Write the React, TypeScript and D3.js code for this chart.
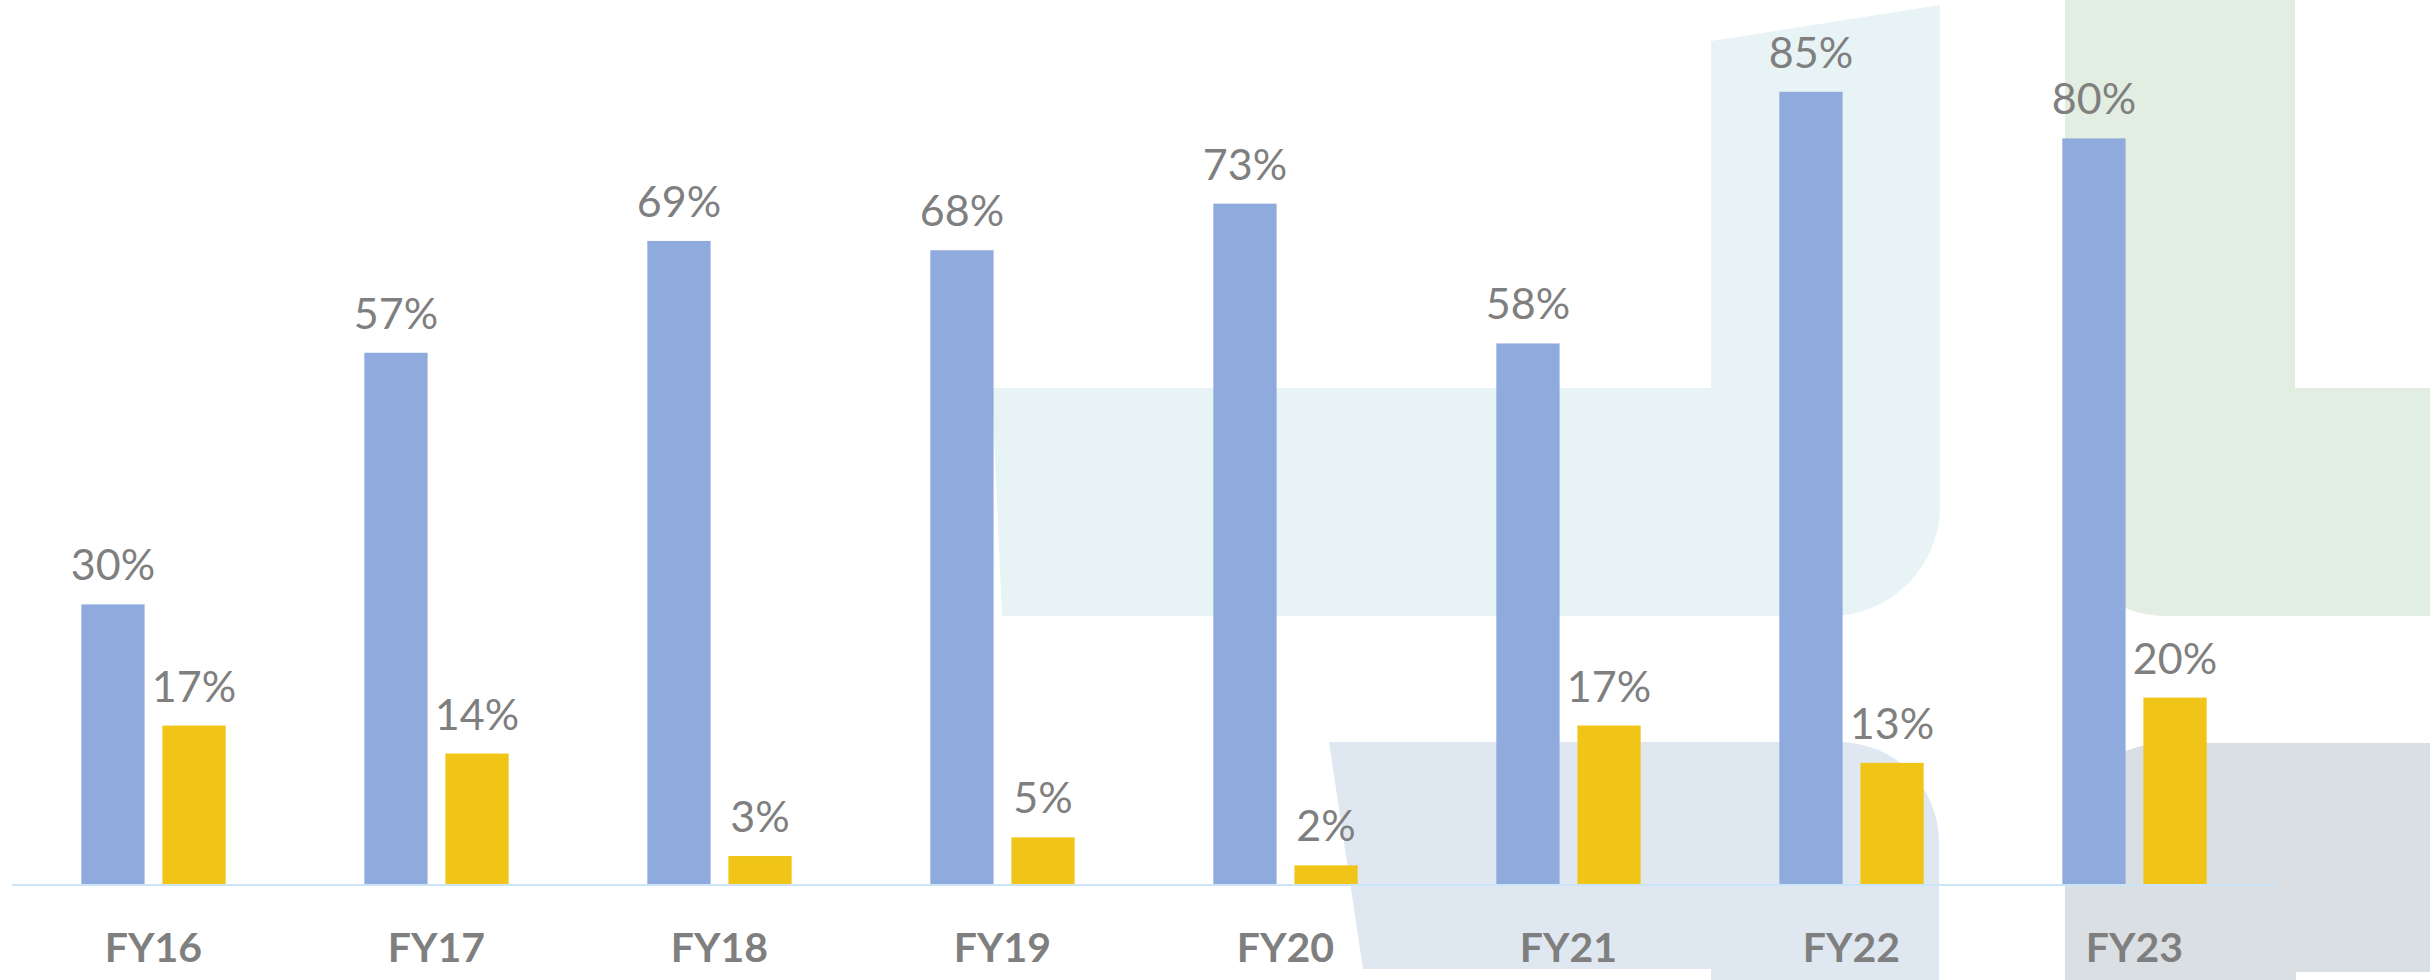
import * as d3 from "d3";

// ── Data ──────────────────────────────────────────────────────────────────────

const YEARS = ["FY16", "FY17", "FY18", "FY19", "FY20", "FY21", "FY22", "FY23"];
const SERIES = ["primary", "secondary"];
const PRIMARY = [30, 57, 69, 68, 73, 58, 85, 80];
const SECONDARY = [17, 14, 3, 5, 2, 17, 13, 20];

// ── Constants ─────────────────────────────────────────────────────────────────

const WIDTH = 2430;
const HEIGHT = 980;
const BASE_Y = 884;
const AXIS_LEFT = 12;
const AXIS_RIGHT = 2277;

const COLORS: Record<string, string> = { primary: "#8faadc", secondary: "#f0c518" };
const TEXT = "#7f7f7f";
const FONT = "Lato, 'Open Sans', sans-serif";

// decorative backdrop shapes (not data)
const BACKDROP = [
  {
    fill: "#e7f3f5",
    d: "M992,388 L1711,388 L1711,41 L1940,5 L1940,506 A110,110 0 0 1 1830,616 L1002,616 Z",
  },
  {
    fill: "#dfe8f1",
    d: "M1329,742 L1839,742 A100,100 0 0 1 1939,842 L1939,980 L1711,980 L1711,969 L1363,969 Z",
  },
  {
    fill: "#e3eee3",
    d: "M2065,0 L2295,0 L2295,388 L2430,388 L2430,616 L2165,616 A100,100 0 0 1 2065,516 Z",
  },
  {
    fill: "#dadfe3",
    d: "M2065,843 A100,100 0 0 1 2165,743 L2430,743 L2430,972 L2296,972 L2296,980 L2065,980 Z",
  },
];

// ── Component ─────────────────────────────────────────────────────────────────

export default function App() {
  const x0 = d3
    .scaleBand<string>()
    .domain(YEARS)
    .range([AXIS_LEFT, 2276])
    .paddingInner(0.49)
    .paddingOuter(0.245);

  const x1 = d3.scaleBand<string>().domain(SERIES).range([0, x0.bandwidth()]).paddingInner(0.22);

  const y = d3.scaleLinear().domain([0, 100]).range([BASE_Y, -48]);

  const rows = YEARS.map((year, i) => ({
    year,
    values: [
      { key: "primary", value: PRIMARY[i] },
      { key: "secondary", value: SECONDARY[i] },
    ],
  }));

  return (
    <div style={{ position: "fixed", left: 0, top: 0, width: WIDTH, height: HEIGHT, background: "#fff" }}>
      <svg width={WIDTH} height={HEIGHT} viewBox={`0 0 ${WIDTH} ${HEIGHT}`} style={{ display: "block" }}>
        {BACKDROP.map((s, i) => (
          <path key={i} d={s.d} fill={s.fill} />
        ))}

        {rows.map((row) => {
          const gx = x0(row.year) ?? 0;
          return (
            <g key={row.year} transform={`translate(${gx},0)`}>
              {row.values.map((v) => {
                const bx = x1(v.key) ?? 0;
                const bw = x1.bandwidth();
                const top = y(v.value);
                return (
                  <g key={v.key}>
                    <rect x={bx} y={top} width={bw} height={BASE_Y - top} fill={COLORS[v.key]} />
                    <text
                      x={bx + bw / 2}
                      y={top - 24}
                      textAnchor="middle"
                      fill={TEXT}
                      fontSize={43}
                      fontFamily={FONT}
                    >
                      {`${v.value}%`}
                    </text>
                  </g>
                );
              })}
              <text
                x={x0.bandwidth() / 2}
                y={962}
                textAnchor="middle"
                fill={TEXT}
                fontSize={41}
                fontWeight="bold"
                fontFamily={FONT}
              >
                {row.year}
              </text>
            </g>
          );
        })}

        {/* Baseline */}
        <line x1={AXIS_LEFT} x2={AXIS_RIGHT} y1={BASE_Y + 1} y2={BASE_Y + 1} stroke="#c9e5f7" strokeWidth={2} />
      </svg>
    </div>
  );
}
